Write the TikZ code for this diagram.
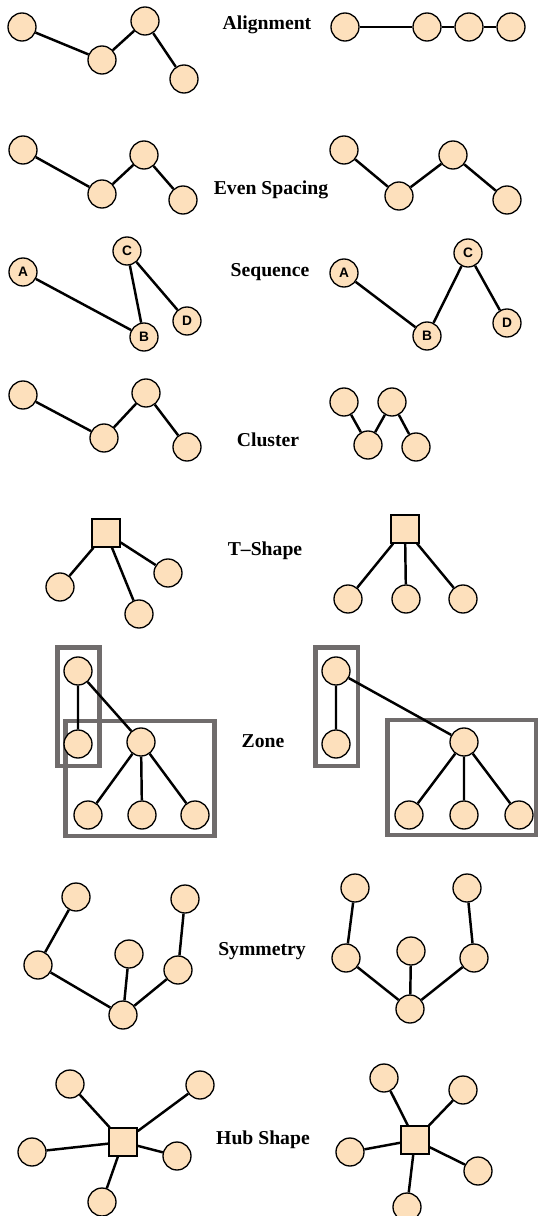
\documentclass[tikz,border=0pt]{standalone}
\usepackage{fontspec}
\setmainfont{Liberation Serif}
\newfontfamily\tagfont{Liberation Sans}
\definecolor{peach}{RGB}{253,224,188}
\definecolor{zonegray}{RGB}{112,108,108}
\tikzstyle{vertex}=[circle, draw, fill=peach, line width=0.75pt, minimum size=0.56cm, inner sep=0pt, font=\tagfont\bfseries\fontsize{7.8}{8}\selectfont]
\tikzstyle{hub}=[rectangle, draw, fill=peach, line width=0.75pt, minimum size=0.56cm, inner sep=0pt]
\tikzstyle{link}=[line width=1.4pt]
\tikzstyle{zone}=[draw=zonegray, line width=2.8pt]
\tikzstyle{caption}=[font=\bfseries\fontsize{11.2}{13}\selectfont]

\begin{document}
\begin{tikzpicture}[x=0.02cm, y=-0.02cm]
      \useasboundingbox (0, 0) rectangle (539, 1216);
      % alignment
      \node[caption] (alignment) at (267, 25) {Alignment};
      \node[vertex] (a1) at (22, 27) {};
      \node[vertex] (a2) at (102, 60) {};
      \node[vertex] (a3) at (145, 21) {};
      \node[vertex] (a4) at (184, 79) {};
      \draw[link] (a1) to (a2) to (a3) to (a4);
      \node[vertex] (b1) at (345, 27) {};
      \node[vertex] (b2) at (427, 27) {};
      \node[vertex] (b3) at (469, 27) {};
      \node[vertex] (b4) at (511, 27) {};
      \draw[link] (b1) to (b2) to (b3) to (b4);
      % even spacing
      \node[caption] (spacing) at (271, 190) {Even Spacing};
      \node[vertex] (e1) at (23, 150) {};
      \node[vertex] (e2) at (102, 194) {};
      \node[vertex] (e3) at (144, 155) {};
      \node[vertex] (e4) at (183, 200) {};
      \draw[link] (e1) to (e2) to (e3) to (e4);
      \node[vertex] (f1) at (344, 150) {};
      \node[vertex] (f2) at (399, 196) {};
      \node[vertex] (f3) at (453, 155) {};
      \node[vertex] (f4) at (507, 200) {};
      \draw[link] (f1) to (f2) to (f3) to (f4);
      % sequence
      \node[caption] (sequence) at (270, 272) {Sequence};
      \node[vertex] (sA) at (23, 272) {A};
      \node[vertex] (sB) at (144, 337) {B};
      \node[vertex] (sC) at (127, 251) {C};
      \node[vertex] (sD) at (187, 321) {D};
      \draw[link] (sA) to (sB) to (sC) to (sD);
      \node[vertex] (tA) at (344, 273) {A};
      \node[vertex] (tB) at (427, 336) {B};
      \node[vertex] (tC) at (468, 253) {C};
      \node[vertex] (tD) at (507, 323) {D};
      \draw[link] (tA) to (tB) to (tC) to (tD);
      % cluster
      \node[caption] (cluster) at (268, 440) {Cluster};
      \node[vertex] (c1) at (23, 395) {};
      \node[vertex] (c2) at (104, 438) {};
      \node[vertex] (c3) at (146, 393) {};
      \node[vertex] (c4) at (187, 447) {};
      \draw[link] (c1) to (c2) to (c3) to (c4);
      \node[vertex] (d1) at (344, 402) {};
      \node[vertex] (d2) at (368, 445) {};
      \node[vertex] (d3) at (392, 402) {};
      \node[vertex] (d4) at (416, 447) {};
      \draw[link] (d1) to (d2) to (d3) to (d4);
      % t-shape
      \node[caption] (tshape) at (265, 551) {T--Shape};
      \node[hub] (th) at (106, 533) {};
      \node[vertex] (t1) at (60, 587) {};
      \node[vertex] (t2) at (139, 614) {};
      \node[vertex] (t3) at (168, 573) {};
      \draw[link] (th) to (t1) (th) to (t2) (th) to (t3);
      \node[hub] (uh) at (405, 529) {};
      \node[vertex] (u1) at (348, 599) {};
      \node[vertex] (u2) at (406, 599) {};
      \node[vertex] (u3) at (463, 599) {};
      \draw[link] (uh) to (u1) (uh) to (u2) (uh) to (u3);
      % zone
      \node[caption] (zone) at (263, 741) {Zone};
      \draw[zone] (57.5, 647.5) rectangle (99.5, 766);
      \draw[zone] (65.5, 721) rectangle (214.5, 836);
      \draw[zone] (315.5, 647.5) rectangle (358, 766);
      \draw[zone] (387.5, 720) rectangle (536, 835);
      \node[vertex] (z1) at (78, 671) {};
      \node[vertex] (z2) at (78, 744) {};
      \node[vertex] (z3) at (141, 742) {};
      \node[vertex] (z4) at (88, 815) {};
      \node[vertex] (z5) at (142, 815) {};
      \node[vertex] (z6) at (195, 815) {};
      \draw[link] (z2) to (z1) to (z3) to (z4) (z3) to (z5) (z3) to (z6);
      \node[vertex] (w1) at (336, 671) {};
      \node[vertex] (w2) at (336, 744) {};
      \node[vertex] (w3) at (464, 742) {};
      \node[vertex] (w4) at (409, 815) {};
      \node[vertex] (w5) at (464, 815) {};
      \node[vertex] (w6) at (519, 815) {};
      \draw[link] (w2) to (w1) to (w3) to (w4) (w3) to (w5) (w3) to (w6);
      % symmetry
      \node[caption] (symmetry) at (262, 951) {Symmetry};
      \node[vertex] (m1) at (76, 897) {};
      \node[vertex] (m2) at (38, 965) {};
      \node[vertex] (m3) at (129, 954) {};
      \node[vertex] (m4) at (185, 899) {};
      \node[vertex] (m5) at (178, 970) {};
      \node[vertex] (m6) at (123, 1015) {};
      \draw[link] (m1) to (m2) to (m6) to (m5) to (m4) (m3) to (m6);
      \node[vertex] (n1) at (355, 888) {};
      \node[vertex] (n2) at (346, 958) {};
      \node[vertex] (n3) at (411, 951) {};
      \node[vertex] (n4) at (467, 888) {};
      \node[vertex] (n5) at (474, 958) {};
      \node[vertex] (n6) at (410, 1009) {};
      \draw[link] (n1) to (n2) to (n6) to (n5) to (n4) (n3) to (n6);
      % hub shape
      \node[caption] (hubshape) at (263, 1140) {Hub Shape};
      \node[hub] (hh) at (123, 1142) {};
      \node[vertex] (h1) at (70, 1084) {};
      \node[vertex] (h2) at (200, 1085) {};
      \node[vertex] (h3) at (32, 1152) {};
      \node[vertex] (h4) at (177, 1156) {};
      \node[vertex] (h5) at (102, 1202) {};
      \draw[link] (hh) to (h1) (hh) to (h2) (hh) to (h3) (hh) to (h4) (hh) to (h5);
      \node[hub] (kh) at (415, 1140) {};
      \node[vertex] (k1) at (384, 1078) {};
      \node[vertex] (k2) at (463, 1090) {};
      \node[vertex] (k3) at (350, 1152) {};
      \node[vertex] (k4) at (478, 1171) {};
      \node[vertex] (k5) at (407, 1207) {};
      \draw[link] (kh) to (k1) (kh) to (k2) (kh) to (k3) (kh) to (k4) (kh) to (k5);
    \end{tikzpicture}
\end{document}
